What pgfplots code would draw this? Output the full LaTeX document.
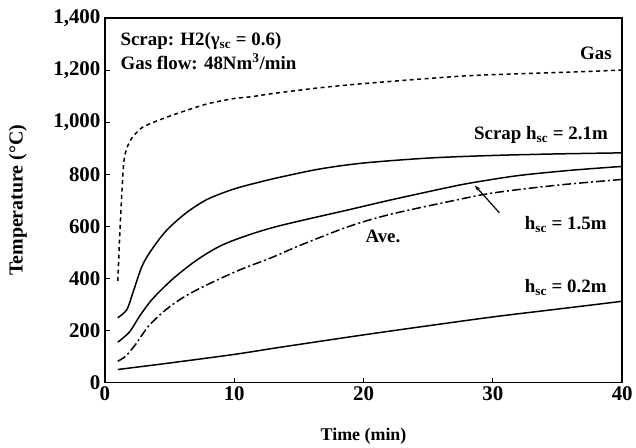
\documentclass[border=0pt]{standalone}
\usepackage{fontspec}
\setmainfont{Liberation Serif}
\usepackage{pgfplots}
\pgfplotsset{compat=1.18}
\usetikzlibrary{arrows.meta}
\begin{document}
\begin{tikzpicture}
\begin{axis}[
  name=main,
  scale only axis,
  width=518bp, height=365bp,
  xmin=0, xmax=40, ymin=0, ymax=1400,
  xtick={0,10,20,30,40},
  ytick={0,200,400,600,800,1000,1200,1400},
  xtick pos=left, ytick pos=left,
  tick align=inside,
  major tick length=5bp,
  tick style={line width=1pt,black},
  axis line style={line width=1.6pt},
  /pgf/number format/1000 sep={,},
  /pgf/number format/assume math mode=true,
  font=\fontsize{19}{21}\selectfont\bfseries,
  tick label style={font=\fontsize{21}{23}\selectfont\bfseries},
  yticklabel style={xshift=-1bp},
  xticklabel style={yshift=-1bp},
  xlabel={Time (min)},
  ylabel={Temperature (°C)},
  xlabel style={font=\fontsize{18}{20}\selectfont\bfseries, at={(axis description cs:0.5,-0.148)}, anchor=center},
  ylabel style={font=\fontsize{20}{22}\selectfont\bfseries, at={(axis description cs:-0.168,0.5)}, anchor=center},
  clip=false,
]
% Gas
\addplot[black, line width=1.5pt, dash pattern=on 4pt off 3.5pt, smooth, tension=0.4] coordinates {
(1,390) (1.2,620) (1.45,840) (1.7,900) (2.1,940) (2.9,980) (4.4,1012) (6,1040) (7.9,1070) (9.9,1090) (11.4,1098) (13,1110) (16.6,1132) (20,1148) (24.3,1165) (28,1178) (32,1186) (36,1192) (40,1200)
};
% Scrap 2.1m
\addplot[black, line width=1.5pt, smooth, tension=0.5] coordinates {
(1,249) (1.7,280) (2.2,350) (2.9,450) (3.7,516) (4.8,586) (6.3,652) (7.9,703) (9.9,742) (11.9,769) (13.5,788) (16.6,820) (20,843) (25,862) (30,872) (35,878) (40,882)
};
% 1.5m
\addplot[black, line width=1.5pt, smooth, tension=0.5] coordinates {
(1,155) (1.9,194) (2.7,256) (3.7,322) (5.3,400) (7.1,470) (8.9,524) (10.9,563) (13.5,602) (18.9,664) (22,700) (26.6,750) (28.6,769) (32,795) (36,815) (40,830)
};
% Ave
\addplot[black, line width=1.5pt, dash pattern=on 9pt off 3pt on 2pt off 3pt, smooth, tension=0.5] coordinates {
(1,82) (1.6,101) (2.4,148) (3.4,218) (4.8,283) (6.3,334) (8.1,380) (10.4,432) (13,482) (15,525) (18.9,600) (22,645) (26.6,695) (30,728) (35,758) (40,780)
};
% 0.2m
\addplot[black, line width=1.5pt, smooth, tension=0.5] coordinates {
(1,50) (5,75) (10,108) (13.5,135) (20,183) (25,218) (30,252) (35,282) (40,312)
};
\draw[line width=1.2pt, -{Stealth[length=6bp,width=4bp]}] (axis cs:30.5,652) -- (axis cs:28.6,757);
\node[anchor=west, inner sep=0pt] at (axis cs:1.2,1310) {Scrap: H2(γ\textsubscript{sc} = 0.6)};
\node[anchor=west, inner sep=0pt] at (axis cs:1.2,1232) {Gas flow: 48Nm\textsuperscript{3}/min};
\node[anchor=east, inner sep=0pt] at (axis cs:39.2,1266) {Gas};
\node[anchor=east, inner sep=0pt] at (axis cs:38.9,951) {Scrap h\textsubscript{sc} = 2.1m};
\node[anchor=east, inner sep=0pt] at (axis cs:38.8,606) {h\textsubscript{sc} = 1.5m};
\node[inner sep=0pt] at (axis cs:21.5,560) {Ave.};
\node[anchor=east, inner sep=0pt] at (axis cs:38.8,364) {h\textsubscript{sc} = 0.2m};
\end{axis}
\path (main.south west) ++(-105bp,-63bp) rectangle ++(636bp,446bp);
\end{tikzpicture}
\end{document}
